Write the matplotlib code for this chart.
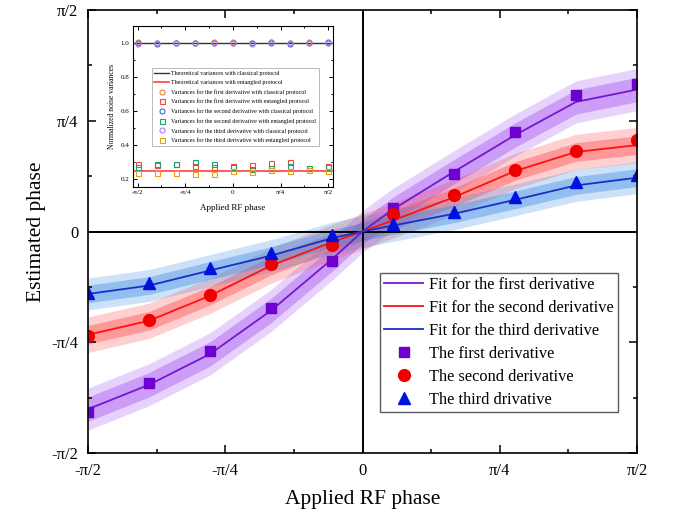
import numpy as np
import matplotlib
matplotlib.use("Agg")
import matplotlib.pyplot as plt
from matplotlib.ticker import FixedLocator, MultipleLocator

plt.rcParams['font.family'] = ['Liberation Serif', 'DejaVu Serif']
plt.rcParams['mathtext.fontset'] = 'stix'

# ---------------- data (phase values in units of pi/2) ----------------
applied_deg = [-90, -70, -50, -30, -10, 10, 30, 50, 70, 90]
first_deriv = [-0.813, -0.682, -0.538, -0.347, -0.134, 0.107, 0.261, 0.449, 0.615, 0.664]
second_deriv = [-0.471, -0.398, -0.285, -0.148, -0.063, 0.080, 0.167, 0.276, 0.362, 0.415]
third_deriv = [-0.277, -0.234, -0.164, -0.098, -0.015, 0.036, 0.086, 0.155, 0.225, 0.257]

fit_deg = [-90, -70, -50, -30, -10, 0, 10, 30, 50, 70, 90]
fit_first = [-0.802, -0.692, -0.553, -0.357, -0.125, 0.0, 0.100, 0.270, 0.435, 0.585, 0.641]
fit_second = [-0.466, -0.403, -0.290, -0.154, -0.048, 0.0, 0.050, 0.155, 0.273, 0.359, 0.390]
fit_third = [-0.282, -0.244, -0.176, -0.109, -0.030, 0.0, 0.027, 0.080, 0.143, 0.208, 0.243]
# band half-widths (inner, outer), units of pi/2
band_first = (0.055, 0.095)
band_second = (0.042, 0.080)
band_third = (0.040, 0.072)

tick_labels = ['-\u03c0/2', '-\u03c0/4', '0', '\u03c0/4', '\u03c0/2']

# inset data
inset_deg = [-90, -72, -54, -36, -18, 0, 18, 36, 54, 72, 90]
var_first_cl = [1.005, 1.000, 1.000, 1.002, 1.005, 1.006, 0.998, 1.004, 0.998, 1.004, 1.000]
var_first_en = [0.288, 0.285, 0.290, 0.280, 0.270, 0.278, 0.282, 0.294, 0.300, 0.268, 0.280]
var_second_cl = [0.998, 0.997, 1.000, 1.000, 0.999, 1.002, 0.998, 1.003, 0.997, 1.002, 1.006]
var_second_en = [0.275, 0.288, 0.291, 0.304, 0.292, 0.273, 0.260, 0.267, 0.276, 0.267, 0.270]
var_third_cl = [0.994, 0.998, 1.000, 1.002, 1.000, 1.003, 0.997, 1.004, 0.999, 1.002, 1.003]
var_third_en = [0.235, 0.240, 0.235, 0.229, 0.233, 0.250, 0.243, 0.253, 0.247, 0.257, 0.250]
theory_classical = 1.0
theory_entangled = 0.25

# ---------------- figure ----------------
fig = plt.figure(figsize=(6.76, 5.18), dpi=100)
ax = fig.add_axes([88/676, 1-453/518, (637-88)/676, (453-10)/518])

h = np.pi/2
xd = np.deg2rad(applied_deg)
xf = np.deg2rad(fit_deg)

series = [
    (fit_first, first_deriv, band_first, '#7418d0', '#a24ff0', '#6e00d0', 's', 7.5,
     'Fit for the first derivative', 'The first derivative'),
    (fit_second, second_deriv, band_second, '#ff1010', '#ff4545', '#ee0000', 'o', 8.5,
     'Fit for the second derivative', 'The second derivative'),
    (fit_third, third_deriv, band_third, '#1a2fc8', '#3a8ae6', '#0010dd', '^', 9,
     'Fit for the third derivative', 'The third drivative'),
]
line_handles = []
mark_handles = []
for fit, pts, band, lc, bc, mc, mk, ms, lfit, lpts in series:
    f = np.array(fit) * h
    inner, outer = band[0]*h, band[1]*h
    ax.fill_between(xf, f-outer, f+outer, color=bc, alpha=0.25, lw=0)
    ax.fill_between(xf, f-inner, f+inner, color=bc, alpha=0.4, lw=0)
    ln, = ax.plot(xf, f, color=lc, lw=1.3, label=lfit)
    mh, = ax.plot(xd, np.array(pts)*h, ls='none', marker=mk, ms=ms, color=mc,
                  mec=mc, label=lpts)
    line_handles.append(ln)
    mark_handles.append(mh)

ax.axhline(0, color='black', lw=1.4, zorder=1.5)
ax.axvline(0, color='black', lw=1.4, zorder=1.5)

ax.set_xlim(-h, h)
ax.set_ylim(-h, h)
ticks = [-h, -h/2, 0, h/2, h]
ax.set_xticks(ticks)
ax.set_xticklabels(tick_labels)
ax.set_yticks(ticks)
ax.set_yticklabels(tick_labels)
ax.xaxis.set_minor_locator(FixedLocator([-3*h/4, -h/4, h/4, 3*h/4]))
ax.yaxis.set_minor_locator(FixedLocator([-3*h/4, -h/4, h/4, 3*h/4]))
ax.tick_params(which='both', direction='in', top=True, right=True, labelsize=12, width=1.1)
ax.tick_params(which='major', length=6, pad=7)
ax.tick_params(which='minor', length=3)
for s in ax.spines.values():
    s.set_linewidth(1.2)
ax.set_xlabel('Applied RF phase', fontsize=15.5, labelpad=8)
ax.set_ylabel('Estimated phase', fontsize=15.5, labelpad=4)

leg = ax.legend(handles=line_handles + mark_handles, loc='upper left',
                bbox_to_anchor=((380-88)/549, (453-273)/443), fontsize=11.8,
                frameon=True, fancybox=False, edgecolor='#333333',
                handlelength=2.4, labelspacing=0.42, borderpad=0.25,
                handletextpad=0.35, borderaxespad=0)
leg.get_frame().set_linewidth(1.0)

# ---------------- inset ----------------
ia = fig.add_axes([132.7/676, 1-186.7/518, (333-132.7)/676, (186.7-26)/518])
xi = np.deg2rad(inset_deg)
ia.axhline(theory_classical, color='#333333', lw=1.0, label='Theoretical variances with classical protocol')
ia.axhline(theory_entangled, color='#ff4040', lw=1.2, label='Theoretical variances with entangled protocol')
inset_series = [
    (var_first_cl, 'o', '#f57f2a', 'Variances for the first derivative with classical protocol'),
    (var_first_en, 's', '#f24848', 'Variances for the first derivative with entangled protocol'),
    (var_second_cl, 'o', '#2a6fd6', 'Variances for the second derivative with classical protocol'),
    (var_second_en, 's', '#20a070', 'Variances for the second derivative with entangled protocol'),
    (var_third_cl, 'o', '#b07ae6', 'Variances for the third derivative with classical protocol'),
    (var_third_en, 's', '#e8a010', 'Variances for the third derivative with entangled protocol'),
]
for vals, mk, c, lab in inset_series:
    ia.plot(xi, vals, ls='none', marker=mk, ms=3.6, mfc='none', mec=c, mew=0.8, label=lab)
ia.set_xlim(-1.65, 1.65)
ia.set_ylim(0.157, 1.10)
ia.set_xticks(ticks)
ia.set_xticklabels(tick_labels)
ia.xaxis.set_minor_locator(FixedLocator([-3*h/4, -h/4, h/4, 3*h/4]))
ia.set_yticks([0.2, 0.4, 0.6, 0.8, 1.0])
ia.yaxis.set_minor_locator(MultipleLocator(0.1))
ia.tick_params(which='both', direction='in', top=True, right=True, labelsize=5, width=0.7, pad=2.5)
ia.tick_params(which='major', length=3)
ia.tick_params(which='minor', length=1.5)
for s in ia.spines.values():
    s.set_linewidth(0.8)
ia.set_xlabel('Applied RF phase', fontsize=6.5, labelpad=6)
ia.set_ylabel('Normalized noise variances', fontsize=5.5, labelpad=3)
il = ia.legend(loc='upper left', bbox_to_anchor=(0.095, 0.737), fontsize=4.3,
               frameon=True, fancybox=False, edgecolor='#888888',
               handlelength=2.5, labelspacing=0.68, borderpad=0.4,
               handletextpad=0.4, borderaxespad=0)
il.get_frame().set_linewidth(0.5)

fig.savefig('out.png', dpi=100)
